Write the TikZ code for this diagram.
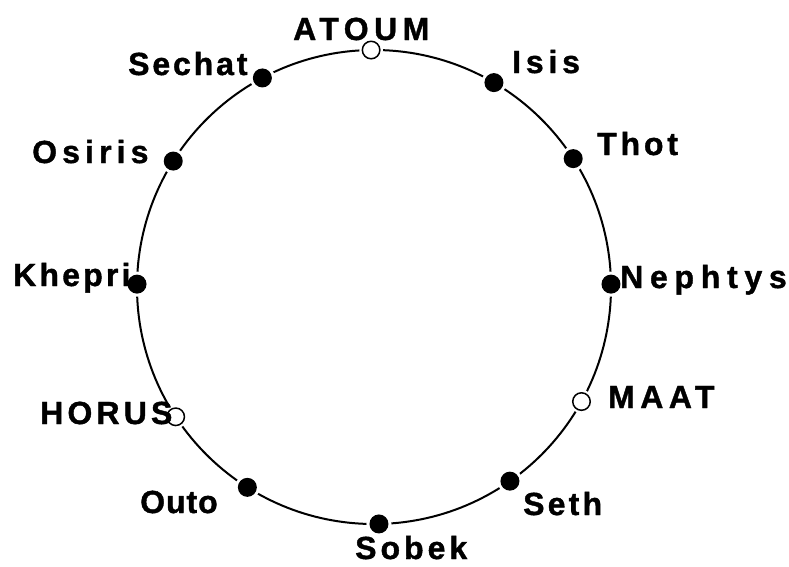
\documentclass[tikz,border=0pt]{standalone}
\usepackage{fontspec}
\newfontfamily\labfont{Liberation Sans Bold}[FakeBold=1.2]
\usetikzlibrary{calc}
\newcommand{\lsp}[1]{\addfontfeature{LetterSpace=#1}}
\begin{document}
\begin{tikzpicture}[x=1pt,y=-1pt,
  lbl/.style={inner sep=0pt, anchor=base west, font=\labfont\fontsize{32}{38}\selectfont},
  fdot/.style={circle, fill=black, minimum size=19pt, inner sep=0pt,
               preaction={draw=white, line width=6pt}},
  odot/.style={circle, fill=white, draw=black, line width=1.5pt, minimum size=17.5pt, inner sep=0pt,
               preaction={draw=white, line width=6pt}},
  ring/.style={draw=black, line width=2pt}]
\useasboundingbox (0,0) rectangle (789,566);
\coordinate (c) at (374,287);
\draw[ring] (c) circle[radius=237pt];
% points on the circle
\node[odot] (atoum)   at ([shift={(90.7:237pt)}]c) {};
\node[fdot] (isis)    at ([shift={(59.6:237pt)}]c) {};
\node[fdot] (thot)    at ([shift={(32.8:237pt)}]c) {};
\node[fdot] (nephtys) at ([shift={(0.7:237pt)}]c) {};
\node[odot] (maat)    at ([shift={(-28.9:237pt)}]c) {};
\node[fdot] (seth)    at ([shift={(-55.0:237pt)}]c) {};
\node[fdot] (sobek)   at ([shift={(-88.8:237pt)}]c) {};
\node[fdot] (outo)    at ([shift={(-122.3:237pt)}]c) {};
\node[odot] (horus)   at ([shift={(-146.8:237pt)}]c) {};
\node[fdot] (khepri)  at ([shift={(179.3:237pt)}]c) {};
\node[fdot] (osiris)  at ([shift={(147.9:237pt)}]c) {};
\node[fdot] (sechat)  at ([shift={(118.1:237pt)}]c) {};
% labels
\node[lbl] (latoum)   at (293,40)  {\lsp{17}ATOUM};
\node[lbl] (lisis)    at (512,73)  {\lsp{15}Isis};
\node[lbl] (lthot)    at (597,155) {\lsp{12}Thot};
\node[lbl] (lnephtys) at (620,288) {\lsp{21}Nephtys};
\node[lbl] (lmaat)    at (608,408) {\lsp{17}MAAT};
\node[lbl] (lseth)    at (523,515) {\lsp{10}Seth};
\node[lbl] (lsobek)   at (355,559) {\lsp{12.5}Sobek};
\node[lbl] (louto)    at (140,513) {\lsp{3}Outo};
\node[lbl] (lhorus)   at (40,424)  {\lsp{13}HORUS};
\node[lbl] (lkhepri)  at (13,286)  {\lsp{10}Khepri};
\node[lbl] (losiris)  at (32,163)  {\lsp{16}Osiris};
\node[lbl] (lsechat)  at (128,75)  {\lsp{9}Sechat};
\end{tikzpicture}
\end{document}
